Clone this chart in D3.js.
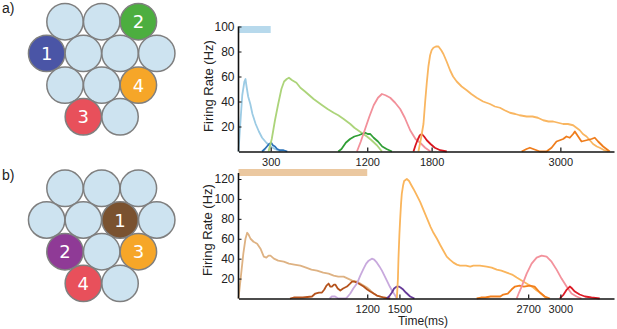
<!DOCTYPE html>
<html><head><meta charset="utf-8">
<script src="https://cdn.jsdelivr.net/npm/d3@7"></script>
<style>
body{margin:0;background:#fff;}
svg{display:block;font-family:"Liberation Sans",Arial,Helvetica,sans-serif;}
</style></head>
<body><svg id="c" width="617" height="329"></svg>
<script>
// ---------- DATA ----------
// panel a) traces: [time ms, rate Hz]
const topLightBlue=[[0,0],[15,20],[35,45],[55,56],[65,58],[75,52],[90,44],[110,38],[130,30],[160,22],[190,16],[220,11],[260,7],[300,4],[340,2],[390,0]];
const topDarkBlue=[[220,0],[245,2],[265,4],[285,6],[305,7],[320,5],[340,4],[360,2],[385,1],[420,1],[455,0]];
const topLightGreen=[[280,0],[310,10],[340,25],[370,38],[400,50],[425,56],[450,58],[470,59],[500,57],[540,55],[577,51],[620,48],[660,45],[700,42],[732,40],[780,37],[830,34],[887,31],[930,29],[980,26],[1042,22],[1080,19],[1130,16],[1197,12],[1240,9],[1290,5],[1337,0]];
const topDarkGreen=[[930,0],[960,2],[1000,7],[1040,10],[1080,12],[1120,13],[1150,14],[1181,15],[1205,14],[1228,14],[1260,11],[1300,8],[1340,4],[1380,2],[1430,0]];
const topPink=[[1104,0],[1140,8],[1180,18],[1220,28],[1260,37],[1300,43],[1337,46],[1370,45],[1414,43],[1460,39],[1507,34],[1550,27],[1600,17],[1650,10],[1693,7],[1740,3],[1790,0]];
const topRed=[[1631,0],[1650,5],[1668,9],[1690,13],[1709,14],[1730,12],[1755,9],[1790,6],[1830,3],[1880,1],[1941,0]];
const topLightOrange=[[1677,0],[1700,10],[1724,22],[1740,40],[1755,55],[1770,68],[1786,77],[1800,81],[1817,83],[1840,84],[1864,84],[1890,81],[1910,78],[1940,72],[1972,65],[2000,60],[2034,56],[2080,52],[2127,49],[2170,46],[2220,43],[2280,40],[2344,38],[2390,36],[2437,35],[2480,33],[2530,31],[2580,30],[2620,29],[2686,28],[2740,28],[2790,27],[2840,25],[2890,24],[2933,24],[2980,23],[3026,22],[3070,22],[3119,21],[3150,19],[3181,17],[3210,14],[3244,12],[3275,9],[3305,6],[3340,4],[3367,3],[3410,1],[3445,0]];
const topDarkOrange=[[2639,0],[2685,2],[2716,3],[2747,2],[2809,0],[2871,0],[2918,3],[2964,8],[2995,9],[3026,10],[3057,12],[3088,11],[3119,14],[3135,16],[3166,12],[3197,8],[3243,9],[3290,10],[3321,11],[3352,8],[3399,4],[3460,0]];
// panel b) traces
const botTan=[[0,0],[20,20],[45,45],[65,60],[81,66],[95,64],[112,60],[140,57],[174,55],[205,50],[236,42],[260,41],[280,43],[298,43],[330,40],[370,38],[422,37],[470,35],[520,34],[577,33],[630,31],[680,29],[732,28],[790,26],[840,25],[887,23],[930,22],[980,22],[1020,20],[1060,18],[1104,17],[1150,14],[1197,11],[1230,8],[1259,5],[1290,3],[1321,2],[1383,0]];
const botDarkBrown=[[480,0],[515,1],[600,1],[685,2],[716,5],[750,6],[778,6],[800,9],[820,13],[840,15],[855,12],[871,12],[890,14],[902,14],[925,10],[949,8],[975,10],[1011,12],[1040,15],[1058,17],[1080,17],[1104,16],[1135,14],[1166,12],[1200,9],[1228,7],[1260,5],[1290,3],[1352,1],[1414,0]];
const botLightPurple=[[850,0],[870,2],[900,2],[930,0],[1000,0],[1011,1],[1042,5],[1070,10],[1104,15],[1135,23],[1166,30],[1190,35],[1213,38],[1243,40],[1265,39],[1290,36],[1315,32],[1337,28],[1360,23],[1383,18],[1410,12],[1430,8],[1455,4],[1476,0]];
const botDarkPurple=[[1383,0],[1410,3],[1430,6],[1450,10],[1476,12],[1495,12],[1510,11],[1535,9],[1560,6],[1600,2],[1640,0]];
const botLightOrange=[[1476,0],[1486,20],[1491,40],[1500,65],[1507,80],[1515,95],[1522,105],[1535,114],[1544,118],[1569,120],[1590,118],[1610,114],[1631,110],[1660,104],[1693,97],[1720,90],[1755,81],[1790,72],[1817,66],[1850,60],[1879,54],[1910,48],[1941,42],[1970,39],[2003,36],[2035,34],[2065,33],[2120,33],[2160,32],[2189,33],[2250,33],[2313,32],[2360,31],[2407,29],[2450,28],[2500,26],[2550,24],[2593,21],[2654,17],[2700,14],[2747,11],[2780,8],[2809,6],[2840,3],[2872,0]];
const botDarkOrange=[[2220,0],[2260,1],[2300,1],[2350,2],[2400,2],[2440,2],[2468,4],[2510,5],[2545,9],[2577,12],[2620,13],[2660,12],[2716,13],[2760,12],[2809,6],[2855,2],[2902,0]];
const botPink=[[2593,0],[2615,6],[2639,12],[2686,25],[2732,35],[2779,41],[2825,43],[2872,42],[2918,37],[2965,29],[3011,20],[3058,12],[3104,5],[3151,2],[3197,0]];
const botRed=[[2995,0],[3030,4],[3060,9],[3088,12],[3110,10],[3135,7],[3180,4],[3230,2],[3290,1],[3367,0]];

const topXTicks=[300,1200,1800,3000];
const botXTicks=[1200,1500,2700,3000];
const topYTicks=[20,40,60,80,100];
const botYTicks=[20,40,60,80,100,120];
const topStim=[0,300];
const botStim=[0,1200];
const yLabel="Firing Rate (Hz)";
const xLabel="Time(ms)";
// hex arrays: [row, col index, label or null, colour key]
const gridA=[[0,0],[0,1],[0,2,"2","green"],[1,0,"1","blue"],[1,1],[1,2],[1,3],[2,0],[2,1],[2,2,"4","orange"],[3,0,"3","red"],[3,1]];
const gridB=[[0,0],[0,1],[0,2],[1,0],[1,1],[1,2,"1","brown"],[1,3],[2,0,"2","purple"],[2,1],[2,2,"3","orange"],[3,0,"4","red"],[3,1]];

// ---------- DRAW ----------
const svg=d3.select("#c");
const cellColors={green:"#4cae3f",blue:"#4a55a6",orange:"#f6a628",red:"#e8505b",brown:"#7a5230",purple:"#8f3a96"};

function drawGrid(grid,top,label,labelY){
  svg.append("text").attr("x",2).attr("y",labelY).attr("font-size",14).attr("fill","#222").text(label);
  const d=36.7, r=18.2, rowOff=[0,-0.5,0,0.5], rowH=31.7;
  grid.forEach(g=>{
    const cx=65+rowOff[g[0]]*d+g[1]*d;
    const cy=top+g[0]*rowH;
    svg.append("circle").attr("cx",cx).attr("cy",cy).attr("r",r)
      .attr("fill",g[3]?cellColors[g[3]]:"#cde3f0").attr("stroke","#7f7f7f").attr("stroke-width",1.5);
    if(g[2]) svg.append("text").attr("x",cx).attr("y",cy+6.5).attr("text-anchor","middle")
      .attr("font-size",18).attr("fill","#fff").attr("font-family","'DejaVu Sans',sans-serif").text(g[2]);
  });
}
drawGrid(gridA,21.7,"a)",13);
drawGrid(gridB,188.3,"b)",180);

function panel(opts){
  const x=d3.scaleLinear().domain([0,3500]).range([238.5,614]);
  const y=d3.scaleLinear().domain([0,opts.ymax]).range(opts.yr);
  const g=svg.append("g");
  g.append("rect").attr("x",x(opts.stim[0])).attr("width",x(opts.stim[1])-x(opts.stim[0]))
    .attr("y",opts.stimY).attr("height",7).attr("fill",opts.stimColor);
  const line=d3.line().x(d=>x(d[0])).y(d=>y(d[1]));
  opts.series.forEach(s=>{
    g.append("path").attr("d",line(s.data)).attr("fill","none").attr("stroke",s.c)
      .attr("stroke-width",1.8).attr("stroke-linejoin","round");
  });
  const xa=g.append("g").attr("transform",`translate(0,${y(0)})`)
    .call(d3.axisBottom(x).tickValues(opts.xticks).tickSizeInner(-4).tickSizeOuter(0).tickPadding(7).tickFormat(d3.format("d")));
  xa.select(".domain").attr("stroke","#111").attr("stroke-width",1.6);
  xa.selectAll(".tick line").attr("stroke","#111").attr("stroke-width",1.2);
  xa.selectAll("text").attr("font-size",11).attr("fill","#222").attr("font-family","'Liberation Sans',Arial,sans-serif");
  const ya=g.append("g").attr("transform",`translate(${x(0)},0)`)
    .call(d3.axisLeft(y).tickValues(opts.yticks).tickSizeInner(-3).tickSizeOuter(0).tickPadding(4));
  ya.select(".domain").remove();
  ya.selectAll(".tick line").attr("stroke","#111");
  ya.selectAll("text").attr("font-size",12).attr("fill","#222").attr("font-family","'Liberation Sans',Arial,sans-serif");
  g.append("line").attr("x1",x(0)).attr("x2",x(0)).attr("y1",y(0)).attr("y2",opts.axisTop)
    .attr("stroke","#111").attr("stroke-width",1.6);
  g.append("text").attr("transform",`translate(${opts.ylx},${opts.yly}) rotate(-90)`)
    .attr("text-anchor","middle").attr("font-size",13).attr("fill","#222").text(yLabel);
  return {x,y};
}

panel({ymax:100,yr:[151.5,26.5],xticks:topXTicks,yticks:topYTicks,stim:topStim,stimY:26,stimColor:"#b7d9ec",axisTop:26.5,ylx:213,yly:86,
  series:[
    {data:topLightBlue,c:"#9ccbe4"},{data:topDarkBlue,c:"#2b72b8"},
    {data:topLightGreen,c:"#acd47a"},{data:topDarkGreen,c:"#2f9e35"},
    {data:topPink,c:"#f2909a"},{data:topRed,c:"#d9161f"},
    {data:topLightOrange,c:"#f9b661"},{data:topDarkOrange,c:"#ef7d1c"}
  ]});
panel({ymax:120,yr:[298.5,179],xticks:botXTicks,yticks:botYTicks,stim:botStim,stimY:169,stimColor:"#ebc8a0",axisTop:173,ylx:212,yly:230,
  series:[
    {data:botTan,c:"#deb283"},{data:botDarkBrown,c:"#b5531d"},
    {data:botLightPurple,c:"#c8a9dd"},{data:botDarkPurple,c:"#663a98"},
    {data:botLightOrange,c:"#fab55c"},{data:botDarkOrange,c:"#f27f1c"},
    {data:botPink,c:"#f3929c"},{data:botRed,c:"#dd1c27"}
  ]});
svg.append("text").attr("x",423).attr("y",325).attr("text-anchor","middle").attr("font-size",12).attr("fill","#222").text(xLabel);
</script></body></html>
